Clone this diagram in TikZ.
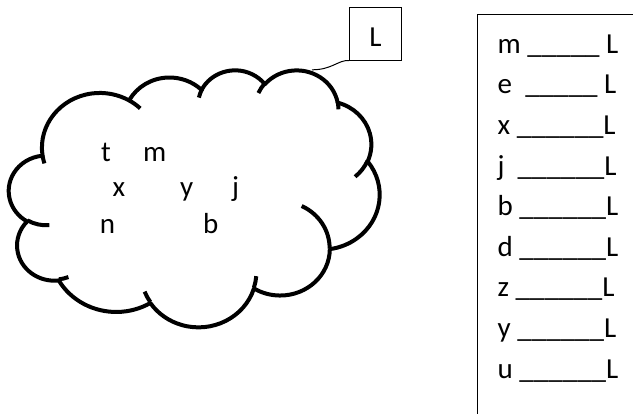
\documentclass[tikz,border=0pt]{standalone}
\usepackage{fontspec}
\setmainfont{Carlito}
% build an Office-style arc (geometric angles) as a TikZ arc (parametric angles)
\newcommand\MkCloudArc[5]{%
  \pgfmathsetmacro\CAtmpa{atan2((#2)*sin(#4),(#3)*cos(#4))}%
  \pgfmathsetmacro\CAtmpb{atan2((#2)*sin((#4)+(#5)),(#3)*cos((#4)+(#5)))}%
  \pgfmathsetmacro\CAtmpd{\CAtmpb-\CAtmpa-(#5)}%
  \pgfmathsetmacro\CAtmpd{(#5)+\CAtmpd-360*round(\CAtmpd/360)}%
  \expandafter\xdef\csname CloudArc#1\endcsname{arc[start angle=\CAtmpa, delta angle=\CAtmpd, x radius=#2, y radius=#3]}%
}
\MkCloudArc{A}{67.53}{91.90}{-190.487483}{123.780533}
\MkCloudArc{B}{53.33}{72.67}{-144.102383}{89.945233}
\MkCloudArc{C}{43.65}{59.45}{-145.807917}{99.723017}
\MkCloudArc{D}{48.57}{65.95}{-130.986067}{117.241733}
\MkCloudArc{E}{53.33}{72.73}{-78.708883}{109.026917}
\MkCloudArc{F}{67.75}{92.20}{-46.26725}{130.269}
\MkCloudArc{G}{57.85}{78.67}{0.625017}{114.033333}
\MkCloudArc{H}{67.52}{92.15}{22.4516}{115.17255}
\MkCloudArc{I}{77.20}{105.43}{66.242633}{75.711017}
\MkCloudArc{J}{43.60}{59.18}{-274.942083}{146.735567}
\MkCloudArc{K}{43.45}{59.45}{-246.8285}{152.51885}
\MkCloudArc{TA}{43.45}{59.45}{86.742}{26.4295}
\MkCloudArc{TB}{43.60}{59.18}{73.61047}{11.44747}
\MkCloudArc{TC}{67.52}{92.15}{137.62415}{14.0811}
\MkCloudArc{TD}{67.52}{92.15}{6.45327}{15.99835}
\MkCloudArc{TE}{57.85}{78.67}{-70.29235}{70.91737}
\MkCloudArc{TF}{53.33}{72.73}{30.31803}{27.7515}
\MkCloudArc{TG}{48.57}{65.95}{-13.74433}{14.8589}
\MkCloudArc{TH}{48.57}{65.95}{-149.18145}{18.19537}
\MkCloudArc{TI}{43.65}{59.45}{-163.49427}{17.68635}
\MkCloudArc{TJ}{67.53}{91.90}{-66.70695}{12.31935}
\MkCloudArc{TK}{67.53}{91.90}{157.65435}{11.85817}
\tikzset{
  cloudline/.style={line width=4bp, black, line join=round},
  thinline/.style={line width=1bp, black},
  txt/.style={inner sep=0pt, anchor=base west, font=\fontsize{29bp}{35bp}\selectfont},
}
\begin{document}
\begin{tikzpicture}[x=1bp,y=-1bp]
\useasboundingbox (0,0) rectangle (633,413);
\fill[white] (0,0) rectangle (633,413);
% answer box (runs past the right and bottom edges)
\begin{scope}
\clip (0,0) rectangle (633,413);
\draw[thinline] (477.3,14) rectangle (660,440);
\end{scope}
\node[txt] (r1) at (497.5,53.3) {m \_\_\_\_\_ L};
\node[txt] (r2) at (497.5,93.9) {e\ \ \_\_\_\_\_ L};
\node[txt] (r3) at (497.5,134.5) {x \_\_\_\_\_\_L};
\node[txt] (r4) at (497.5,175.1) {j\ \ \_\_\_\_\_\_L};
\node[txt] (r5) at (497.5,215.7) {b \_\_\_\_\_\_L};
\node[txt] (r6) at (497.5,256.3) {d \_\_\_\_\_\_L};
\node[txt] (r7) at (497.5,296.9) {z \_\_\_\_\_\_L};
\node[txt] (r8) at (497.5,337.5) {y \_\_\_\_\_\_L};
\node[txt] (r9) at (497.5,378.1) {u \_\_\_\_\_\_L};
% callout box
\node[draw, thinline, minimum width=52.4bp, minimum height=52.7bp, inner sep=0pt] (Lbox) at (375.5,33.65) {};
\node[inner sep=0pt, anchor=base, font=\fontsize{29bp}{35bp}\selectfont] (Ltext) at (375.5,46.7) {L};
\coordinate (tip) at (312,69.8);
\draw[thinline] (Lbox.south west) .. controls (338,60) and (332,69.8) .. (tip);
% cloud
\begin{scope}[shift={(9,69.5)}, x=0.8577bp, y=-0.5947bp]
\draw[cloudline, fill=white] (39.00,143.70) \CloudArcA \CloudArcB \CloudArcC \CloudArcD \CloudArcE \CloudArcF \CloudArcG \CloudArcH \CloudArcI \CloudArcJ \CloudArcK -- cycle;
\draw[cloudline] (46.93,261.77) \CloudArcTA;
\draw[cloudline] (69.28,348.99) \CloudArcTB;
\draw[cloudline] (164.78,390.90) \CloudArcTC;
\draw[cloudline] (288.27,347.51) \CloudArcTD;
\draw[cloudline] (341.29,229.54) \CloudArcTE;
\draw[cloudline] (417.98,153.54) \CloudArcTF;
\draw[cloudline] (383.24,54.26) \CloudArcTG;
\draw[cloudline] (290.78,39.52) \CloudArcTH;
\draw[cloudline] (221.41,47.20) \CloudArcTI;
\draw[cloudline] (140.00,51.92) \CloudArcTJ;
\draw[cloudline] (41.27,157.89) \CloudArcTK;
\end{scope}
% letters in the cloud
\node[txt] (ct) at (101,161.7) {t};
\node[txt] (cm) at (143,161.7) {m};
\node[txt] (cx) at (112.5,196.7) {x};
\node[txt] (cy) at (180,196.7) {y};
\node[txt] (cj) at (232,196.7) {j};
\node[txt] (cn) at (99.7,233.3) {n};
\node[txt] (cb) at (203,233.3) {b};
\end{tikzpicture}
\end{document}
